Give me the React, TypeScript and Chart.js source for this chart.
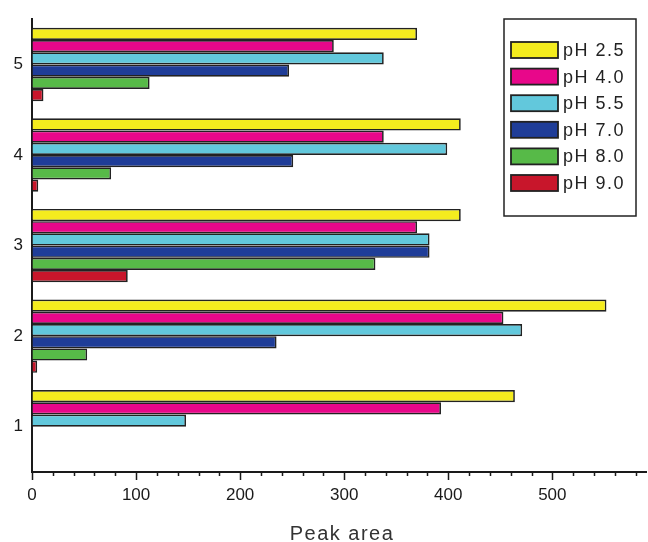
import React, { useEffect, useRef } from "react";
import { Chart, registerables } from "chart.js";

Chart.register(...registerables);

const categories = ["5", "4", "3", "2", "1"];
const seriesNames = ["pH 2.5", "pH 4.0", "pH 5.5", "pH 7.0", "pH 8.0", "pH 9.0"];
const ph25 = [370, 412, 412, 552, 464];
const ph40 = [290, 338, 370, 453, 393];
const ph55 = [338, 399, 382, 471, 148];
const ph70 = [247, 251, 382, 235, null];
const ph80 = [113, 76, 330, 53, null];
const ph90 = [11, 6, 92, 5, null];
const xTickValues = [0, 100, 200, 300, 400, 500];
const xMax = 590;
const minorStep = 20;
const axisTitle = "Peak area";

const colors = ["#f4ec1e", "#e8078a", "#62c8dc", "#1f3d98", "#57ba48", "#c8162b"];
const seriesValues = [ph25, ph40, ph55, ph70, ph80, ph90];

const FONT = "'Liberation Sans', Arial, sans-serif";

const decorPlugin = {
  id: "decor",
  afterDraw(chart: any) {
    const ctx = chart.ctx;
    const xs = chart.scales.x;
    const area = chart.chartArea;
    ctx.save();
    ctx.strokeStyle = "#1a1a1a";
    ctx.lineWidth = 1.5;
    for (let v = 0; v <= xMax; v += minorStep) {
      const px = Math.round(xs.getPixelForValue(v)) + 0.5;
      const major = v % 100 === 0;
      ctx.beginPath();
      ctx.moveTo(px, area.bottom);
      ctx.lineTo(px, area.bottom + (major ? 8 : 4));
      ctx.stroke();
    }
    ctx.fillStyle = "#333";
    ctx.font = `20px ${FONT}`;
    (ctx as any).letterSpacing = "1.5px";
    ctx.textAlign = "center";
    ctx.textBaseline = "alphabetic";
    ctx.fillText(axisTitle, (area.left + area.right) / 2 + 3, 540);
    const bx = 504, by = 19, bw = 132, bh = 197;
    ctx.fillStyle = "#fff";
    ctx.fillRect(bx, by, bw, bh);
    ctx.strokeStyle = "#222";
    ctx.lineWidth = 1.5;
    ctx.strokeRect(bx, by, bw, bh);
    ctx.font = `18px ${FONT}`;
    (ctx as any).letterSpacing = "1.5px";
    ctx.textAlign = "left";
    ctx.textBaseline = "middle";
    chart.data.datasets.forEach((ds: any, i: number) => {
      const cy = 50 + i * 26.6;
      ctx.fillStyle = ds.backgroundColor;
      ctx.fillRect(511, cy - 8, 47, 16);
      ctx.strokeStyle = "#222";
      ctx.lineWidth = 1.8;
      ctx.strokeRect(511, cy - 8, 47, 16);
      ctx.fillStyle = "#222";
      ctx.fillText(ds.label, 563, cy + 1);
    });
    ctx.restore();
  },
};

export default function App() {
  const ref = useRef<HTMLCanvasElement | null>(null);
  useEffect(() => {
    document.body.style.margin = "0";
    if (!ref.current) return;
    const chart = new Chart(ref.current, {
      type: "bar",
      data: {
        labels: categories,
        datasets: seriesNames.map((name, i) => ({
          label: name,
          data: seriesValues[i] as any,
          backgroundColor: colors[i],
          borderColor: "#222",
          borderWidth: 1.7,
          borderSkipped: "start",
          categoryPercentage: 0.81,
          barPercentage: 1,
        })),
      },
      options: {
        indexAxis: "y",
        animation: false,
        responsive: false,
        maintainAspectRatio: false,
        layout: { padding: { top: 12, right: 2, left: 0, bottom: 0 } },
        plugins: { legend: { display: false }, tooltip: { enabled: false } },
        scales: {
          x: {
            type: "linear",
            min: 0,
            max: xMax,
            afterFit: (s: any) => {
              s.height = 70;
            },
            afterBuildTicks: (s: any) => {
              s.ticks = xTickValues.map((v) => ({ value: v }));
            },
            ticks: {
              includeBounds: false,
              autoSkip: false,
              maxRotation: 0,
              padding: 13,
              color: "#1a1a1a",
              font: { family: FONT, size: 17 },
            },
            grid: { display: true, drawOnChartArea: false, drawTicks: false, color: "rgba(0,0,0,0)" },
            border: { display: true, color: "#1a1a1a", width: 2 },
          },
          y: {
            afterFit: (s: any) => {
              s.width = 32;
            },
            ticks: {
              padding: 9,
              color: "#1a1a1a",
              font: { family: FONT, size: 17 },
            },
            grid: { display: true, drawOnChartArea: false, drawTicks: false, color: "rgba(0,0,0,0)" },
            border: { display: true, color: "#1a1a1a", width: 2 },
          },
        },
      },
      plugins: [decorPlugin],
    });
    return () => chart.destroy();
  }, []);
  return <canvas ref={ref} width={648} height={542} style={{ display: "block" }} />;
}
